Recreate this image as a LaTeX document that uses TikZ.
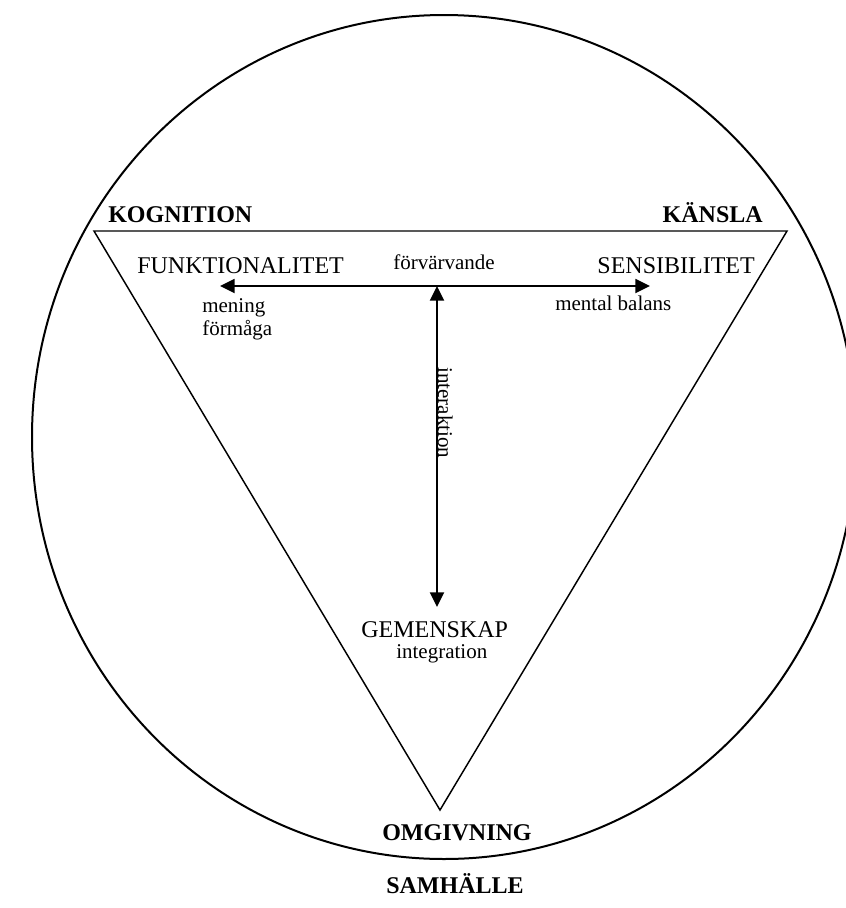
\documentclass[tikz,border=0pt]{standalone}
\usepackage{fontspec}
\setmainfont{Liberation Serif}
\usetikzlibrary{arrows.meta}
\begin{document}
\begin{tikzpicture}[x=0.75pt,y=-0.75pt,
  big/.style={font=\fontsize{18}{21}\selectfont, inner sep=0pt},
  bigb/.style={font=\fontsize{18}{21}\selectfont\bfseries, inner sep=0pt},
  small/.style={font=\fontsize{15.75}{19}\selectfont, inner sep=0pt},
  outline/.style={line width=1.5pt},
  tri/.style={line width=1.1pt, line join=miter},
  arr/.style={line width=1.4pt, {Triangle[length=11pt,width=10.5pt]}-{Triangle[length=11pt,width=10.5pt]}}
]
\useasboundingbox (0,0) rectangle (846,908);
\begin{scope}
\clip (0,0) rectangle (846,908);
\draw[outline] (444,437) ellipse [x radius=412, y radius=422];
\end{scope}
% triangle
\coordinate (TL) at (94,231);
\coordinate (TR) at (787,231);
\coordinate (AP) at (440,810);
\draw[tri] (TL) -- (TR) -- (AP) -- cycle;
% corner labels
\node[bigb, anchor=base west] (kog) at (108,222) {KOGNITION};
\node[bigb, anchor=base east] (kan) at (763,222) {KÄNSLA};
\node[bigb, anchor=base west] (omg) at (382,840) {OMGIVNING};
\node[bigb, anchor=base west] (sam) at (386,893) {SAMHÄLLE};
% inner labels
\node[big, anchor=base west] (fun) at (137,273) {FUNKTIONALITET};
\node[big, anchor=base east] (sen) at (755,273) {SENSIBILITET};
\node[big, anchor=base west] (gem) at (361,637) {GEMENSKAP};
\node[small, anchor=base west] (forv) at (393,269) {förvärvande};
\node[small, anchor=base west] (men) at (202,312) {mening};
\node[small, anchor=base west] (form) at (202,335) {förmåga};
\node[small, anchor=base west] (mb) at (555,310) {mental balans};
\node[small, anchor=base west] (integ) at (396,658) {integration};
\node[small, anchor=base west, rotate=-90] (inter) at (438,367) {interaktion};
% arrows
\coordinate (HL) at (220,286);
\coordinate (HR) at (650,286);
\coordinate (VT) at (437,286);
\coordinate (VB) at (437,607);
\draw[arr] (HL) -- (HR);
\draw[arr] (VT) -- (VB);
\end{tikzpicture}
\end{document}
